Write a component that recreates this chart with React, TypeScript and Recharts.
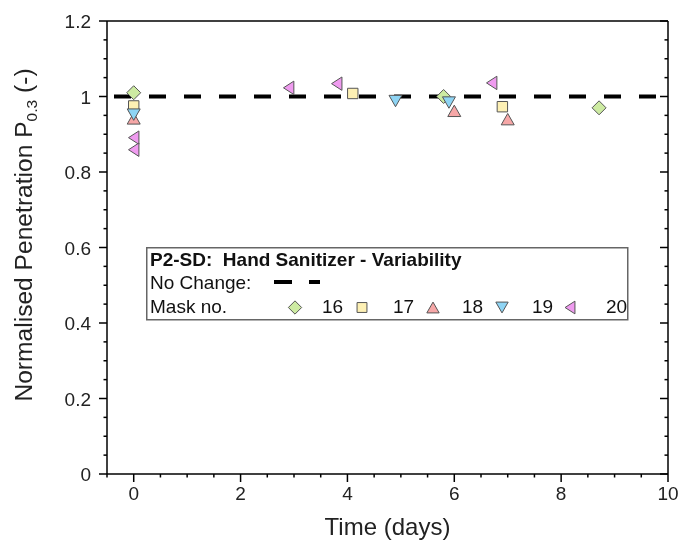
import React from 'react';
import { ScatterChart, Scatter, XAxis, YAxis, ReferenceLine, Legend } from 'recharts';

const FONT = '"Liberation Sans", Arial, Helvetica, sans-serif';

// Mask ids (legend labels)
const maskIds = ['16', '17', '18', '19', '20'];

// Time (days) and normalised penetration values per mask
const days16 = [0, 5.8, 8.71];
const pen16 = [1.01, 1.0, 0.97];
const days17 = [0, 4.1, 6.9];
const pen17 = [0.975, 1.008, 0.973];
const days18 = [0, 6.0, 7.0];
const pen18 = [0.942, 0.962, 0.94];
const days19 = [0, 4.9, 5.9];
const pen19 = [0.952, 0.988, 0.984];
const days20 = [0, 0, 2.9, 3.8, 6.7];
const pen20 = [0.891, 0.859, 1.023, 1.034, 1.036];

const noChange = 1;

// Axis ticks
const xTicks = [-0.5, 0, 0.5, 1, 1.5, 2, 2.5, 3, 3.5, 4, 4.5, 5, 5.5, 6, 6.5, 7, 7.5, 8, 8.5, 9, 9.5, 10];
const xMajor = [0, 2, 4, 6, 8, 10];
const yTicks = [0, 0.05, 0.1, 0.15, 0.2, 0.25, 0.3, 0.35, 0.4, 0.45, 0.5, 0.55, 0.6, 0.65, 0.7, 0.75, 0.8, 0.85, 0.9, 0.95, 1, 1.05, 1.1, 1.15, 1.2];
const yMajor = [0, 0.2, 0.4, 0.6, 0.8, 1, 1.2];

const colors = ['#cdeba2', '#fdf0b4', '#f6a7a7', '#8ed4f4', '#ef9bef'];
const STROKE = '#555';

const toPts = (xs: number[], ys: number[]) => xs.map((x, i) => ({ x, y: ys[i] }));
const series = [toPts(days16, pen16), toPts(days17, pen17), toPts(days18, pen18), toPts(days19, pen19), toPts(days20, pen20)];

const isMajor = (v: number, list: number[]) => list.some((m) => Math.abs(m - v) < 1e-6);

function markerPath(kind: number, cx: number, cy: number, s: number) {
  switch (kind) {
    case 0: {
      const r = 7 * s;
      return `M${cx},${cy - r}L${cx + r},${cy}L${cx},${cy + r}L${cx - r},${cy}Z`;
    }
    case 1: {
      const h = 5.2 * s;
      return `M${cx - h},${cy - h}L${cx + h},${cy - h}L${cx + h},${cy + h}L${cx - h},${cy + h}Z`;
    }
    case 2: {
      const w = 6.5 * s, h = 5.7 * s;
      return `M${cx},${cy - h}L${cx + w},${cy + h}L${cx - w},${cy + h}Z`;
    }
    case 3: {
      const w = 6.5 * s, h = 5.7 * s;
      return `M${cx},${cy + h}L${cx + w},${cy - h}L${cx - w},${cy - h}Z`;
    }
    default: {
      const w = 5.2 * s, h = 6.7 * s;
      return `M${cx - w},${cy}L${cx + w},${cy - h}L${cx + w},${cy + h}Z`;
    }
  }
}

const makeShape = (kind: number) => (props: any) => {
  const { cx, cy } = props;
  if (cx == null || cy == null) return <g />;
  return <path d={markerPath(kind, cx, cy, 1)} fill={colors[kind]} stroke={STROKE} strokeWidth={1} />;
};

const BottomTick = (props: any) => {
  const { x, y, payload } = props;
  const major = isMajor(payload.value, xMajor);
  return (
    <g>
      <line x1={x} x2={x} y1={y} y2={y + (major ? 8 : 3.5)} stroke="#000" strokeWidth={1.5} />
      {major && (
        <text x={x} y={y + 26} textAnchor="middle" fontFamily={FONT} fontSize={19} fill="#222">
          {String(payload.value)}
        </text>
      )}
    </g>
  );
};

const TopTick = (props: any) => {
  const { x, y, payload } = props;
  const major = isMajor(payload.value, xMajor);
  return <line x1={x} x2={x} y1={y} y2={y + (major ? 8 : 3.5)} stroke="#000" strokeWidth={1.5} />;
};

const LeftTick = (props: any) => {
  const { x, y, payload } = props;
  const major = isMajor(payload.value, yMajor);
  return (
    <g>
      <line x1={x} x2={x - (major ? 8 : 3.5)} y1={y} y2={y} stroke="#000" strokeWidth={1.5} />
      {major && (
        <text x={x - 16} y={y + 7} textAnchor="end" fontFamily={FONT} fontSize={19} fill="#222">
          {String(payload.value)}
        </text>
      )}
    </g>
  );
};

const RightTick = (props: any) => {
  const { x, y, payload } = props;
  const major = isMajor(payload.value, yMajor);
  return <line x1={x} x2={x - (major ? 8 : 3.5)} y1={y} y2={y} stroke="#000" strokeWidth={1.5} />;
};

const XTitle = (props: any) => {
  const vb = props.viewBox || {};
  return (
    <text x={vb.x + vb.width / 2} y={vb.y + 61} textAnchor="middle" fontFamily={FONT} fontSize={24} fill="#222">
      Time (days)
    </text>
  );
};

const YTitle = () => {
  const cx = 32, cy = 235;
  return (
    <text x={cx} y={cy} transform={`rotate(-90 ${cx} ${cy})`} textAnchor="middle" fontFamily={FONT} fontSize={24.6} fill="#222">
      Normalised Penetration P
      <tspan fontSize={15.5} dy={5}>0.3</tspan>
      <tspan dy={-5}> (-)</tspan>
    </text>
  );
};

const symX = [149, 216, 287, 356, 424];
const labX = [176, 247, 316, 386, 460];

const LegendBox = () => (
  <svg width={483} height={74} style={{ display: 'block' }}>
    <rect x={0.75} y={0.75} width={481} height={72} fill="#fff" stroke="#666" strokeWidth={1.5} />
    <text x={4} y={18.5} fontFamily={FONT} fontSize={19} fontWeight="bold" fill="#111" style={{ whiteSpace: 'pre' }}>
      {'P2-SD:  Hand Sanitizer - Variability'}
    </text>
    <text x={4} y={42} fontFamily={FONT} fontSize={19} fill="#111">No Change:</text>
    <line x1={128} x2={174} y1={35} y2={35} stroke="#000" strokeWidth={4} strokeDasharray="18 17" />
    <text x={4} y={65.5} fontFamily={FONT} fontSize={19} fill="#111">Mask no.</text>
    {maskIds.map((id, i) => (
      <g key={id}>
        <path d={markerPath(i, symX[i], 60.5, 0.95)} fill={colors[i]} stroke={STROKE} strokeWidth={1} />
        <text x={labX[i]} y={65.5} fontFamily={FONT} fontSize={19} fill="#111">{id}</text>
      </g>
    ))}
  </svg>
);

export default function App() {
  return (
    <div style={{ position: 'fixed', left: 0, top: 0, width: 678, height: 542 }}>
      <ScatterChart width={678} height={542} margin={{ top: 8, right: 0, bottom: 0, left: 8 }}>
        <XAxis
          xAxisId="bottom"
          dataKey="x"
          type="number"
          domain={[-0.5, 10]}
          allowDataOverflow
          ticks={xTicks}
          interval={0}
          height={68}
          tickSize={0}
          tickMargin={0}
          tickLine={false}
          tick={<BottomTick />}
          axisLine={{ stroke: '#000', strokeWidth: 1.5 }}
          label={<XTitle />}
        />
        <XAxis
          xAxisId="top"
          orientation="top"
          type="number"
          domain={[-0.5, 10]}
          allowDataOverflow
          ticks={xTicks}
          interval={0}
          height={13}
          tickSize={0}
          tickMargin={0}
          tickLine={false}
          tick={<TopTick />}
          axisLine={{ stroke: '#000', strokeWidth: 1.5 }}
        />
        <YAxis
          yAxisId="left"
          dataKey="y"
          type="number"
          domain={[0, 1.2]}
          allowDataOverflow
          ticks={yTicks}
          interval={0}
          width={99}
          tickSize={0}
          tickMargin={0}
          tickLine={false}
          tick={<LeftTick />}
          axisLine={{ stroke: '#000', strokeWidth: 1.5 }}
          label={<YTitle />}
        />
        <YAxis
          yAxisId="right"
          orientation="right"
          type="number"
          domain={[0, 1.2]}
          allowDataOverflow
          ticks={yTicks}
          interval={0}
          width={10}
          tickSize={0}
          tickMargin={0}
          tickLine={false}
          tick={<RightTick />}
          axisLine={{ stroke: '#000', strokeWidth: 1.5 }}
        />
        <ReferenceLine
          xAxisId="bottom"
          yAxisId="left"
          y={noChange}
          stroke="#000"
          strokeWidth={4}
          strokeDasharray="17 18"
          strokeDashoffset={28}
        />
        {series.map((data, i) => (
          <Scatter
            key={maskIds[i]}
            name={maskIds[i]}
            xAxisId="bottom"
            yAxisId="left"
            data={data}
            shape={makeShape(i)}
            isAnimationActive={false}
          />
        ))}
        <Legend
          layout="vertical"
          align="center"
          verticalAlign="middle"
          wrapperStyle={{ position: 'absolute', left: 146, top: 247, width: 483, height: 74 }}
          content={() => <LegendBox />}
        />
      </ScatterChart>
    </div>
  );
}
